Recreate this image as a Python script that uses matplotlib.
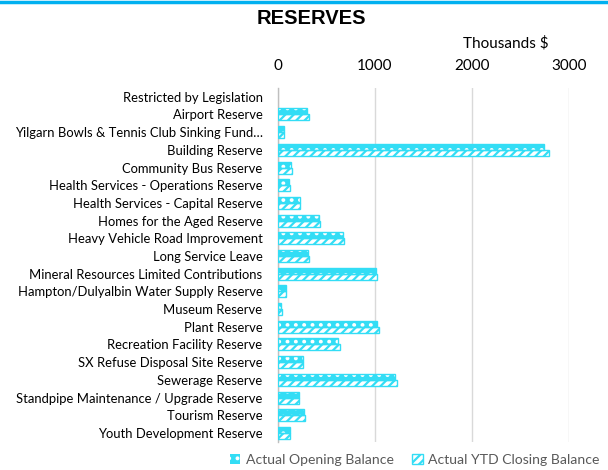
import numpy as np
import matplotlib.pyplot as plt
from matplotlib.patches import Patch

categories = ['Restricted by Legislation', 'Airport Reserve',
              'Yilgarn Bowls & Tennis Club Sinking Fund\u2026', 'Building Reserve',
              'Community Bus Reserve', 'Health Services - Operations Reserve',
              'Health Services - Capital Reserve', 'Homes for the Aged Reserve',
              'Heavy Vehicle Road Improvement', 'Long Service Leave',
              'Mineral Resources Limited Contributions',
              'Hampton/Dulyalbin Water Supply Reserve', 'Museum Reserve',
              'Plant Reserve', 'Recreation Facility Reserve',
              'SX Refuse Disposal Site Reserve', 'Sewerage Reserve',
              'Standpipe Maintenance / Upgrade Reserve', 'Tourism Reserve',
              'Youth Development Reserve']
opening = [0, 303, 60, 2742, 131, 113, 227, 423, 674, 309, 1007, 79, 35,
           1024, 622, 255, 1203, 213, 268, 120]
closing = [0, 320, 65, 2794, 141, 120, 229, 430, 684, 320, 1024, 82, 38,
           1041, 636, 262, 1223, 220, 275, 124]
xticks = [0, 1000, 2000, 3000]

cyan = '#33DDF5'
plt.rcParams['font.family'] = ['Lato', 'DejaVu Sans']
plt.rcParams['hatch.linewidth'] = 1.6

fig = plt.figure(figsize=(6.08, 4.70), dpi=100)
ax = fig.add_axes([0.457, 0.060, 0.479, 0.753])

y = np.arange(len(categories))
h = 0.34
lw_open = [1.0 if v > 0 else 0 for v in opening]
lw_close = [1.0 if v > 0 else 0 for v in closing]
# opening: cyan fill with white dots
ax.barh(y - h / 2, opening, height=h, color=cyan, edgecolor='white',
        hatch='..', linewidth=0, zorder=3)
ax.barh(y - h / 2, opening, height=h, fill=False, edgecolor=cyan,
        linewidth=lw_open, zorder=4)
# closing: white with cyan diagonals
ax.barh(y + h / 2, closing, height=h, color='white', edgecolor=cyan,
        hatch='////', linewidth=lw_close, zorder=3)

ax.set_ylim(len(categories) - 0.5, -0.5)
ax.set_xlim(0, 3000)
ax.set_yticks(y)
ax.set_yticklabels(categories, fontsize=9.4, color='#000000')
ax.set_xticks(xticks)
ax.set_xticklabels([str(t) for t in xticks], fontsize=11, color='#000000')
ax.xaxis.tick_top()
ax.tick_params(axis='x', length=0, pad=11)
ax.tick_params(axis='y', length=0, pad=11)
ax.grid(axis='x', color='#D9D9D9', linewidth=1.0, zorder=0)
for s in ['top', 'right', 'bottom']:
    ax.spines[s].set_visible(False)
ax.spines['left'].set_color('#BFBFBF')
ax.spines['left'].set_linewidth(1.0)

fig.text(0.512, 0.961, 'RESERVES', ha='center', va='center', fontsize=14.5,
         fontweight='bold', family='Liberation Sans')
fig.text(0.832, 0.907, 'Thousands $', ha='center', va='center', fontsize=11)
fig.add_artist(plt.Line2D([0, 1], [0.996, 0.996], color='#00B0F0', linewidth=2.5))

handles = [Patch(facecolor=cyan, edgecolor='white', hatch='..', linewidth=0),
           Patch(facecolor='white', edgecolor=cyan, hatch='////', linewidth=1.0)]
leg = fig.legend(handles, ['Actual Opening Balance', 'Actual YTD Closing Balance'],
                 loc='center', bbox_to_anchor=(0.682, 0.022), ncol=2, frameon=False,
                 fontsize=10.1, handlelength=0.75, handleheight=0.75, handletextpad=0.4,
                 columnspacing=1.3, borderpad=0.2)
for t in leg.get_texts():
    t.set_color('#595959')

fig.savefig('out.png', dpi=100)
